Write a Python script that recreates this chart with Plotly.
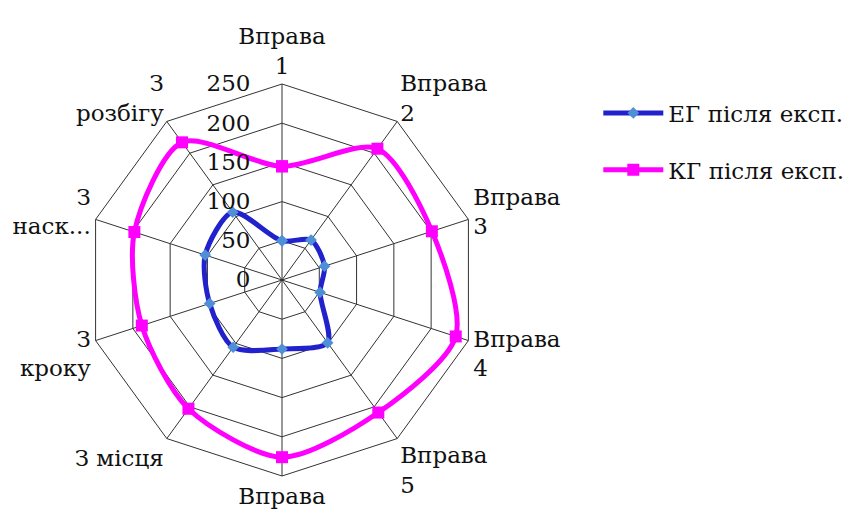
import plotly.graph_objects as go

categories = ["Вправа<br>1", "Вправа<br>2", "Вправа<br>3", "Вправа<br>4", "Вправа<br>5",
              "Вправа", "З місця", "З<br>кроку", "З<br>наск...", "З<br>розбігу"]
eg_values = [50, 63, 57, 51, 99, 88, 106, 97, 103, 107]
kg_values = [145, 207, 201, 233, 209, 226, 203, 188, 198, 217]
series_names = ["ЕГ після експ.", "КГ після експ."]
radial_ticks = [0, 50, 100, 150, 200, 250]

FONT = "DejaVu Serif"
FS = 23

def closed(v):
    return list(v) + [v[0]]

fig = go.Figure()
fig.add_trace(go.Scatterpolar(
    r=closed(eg_values), theta=closed(categories), name=series_names[0],
    mode="lines+markers", line=dict(color="#2222CC", width=5, shape="spline", smoothing=0.8),
    marker=dict(symbol="diamond", size=9, color="#4F8FD8"), legendgroup="a"))
fig.add_trace(go.Scatterpolar(
    r=closed(kg_values), theta=closed(categories), name=series_names[1],
    mode="lines+markers", line=dict(color="#FF00FF", width=5, shape="spline", smoothing=0.8),
    marker=dict(symbol="square", size=12, color="#FF00FF"), legendgroup="b"))

fig.update_layout(
    width=858, height=522,
    margin=dict(l=0, r=0, t=0, b=0),
    paper_bgcolor="white",
    font=dict(family=FONT, size=FS, color="#111111"),
    polar=dict(
        domain=dict(x=[78/858, 470/858], y=[54/522, 446/522]),
        bgcolor="white",
        gridshape="linear",
        radialaxis=dict(range=[0, 250], tickvals=radial_ticks, angle=90, side="counterclockwise",
                        tickangle=90, showline=False, ticks="outside", ticklen=23,
                        tickcolor="rgba(0,0,0,0)", gridcolor="#333333", gridwidth=1,
                        tickfont=dict(family=FONT, size=FS, color="#111111")),
        angularaxis=dict(rotation=90, direction="clockwise", showline=True, linecolor="#333333",
                         linewidth=1, gridcolor="#333333", gridwidth=1, ticks="",
                         tickfont=dict(family=FONT, size=FS, color="#111111")),
    ),
    legend=dict(x=0.688, y=0.84, xanchor="left", yanchor="top", tracegroupgap=24,
                itemwidth=60, font=dict(family=FONT, size=FS, color="#111111"),
                bgcolor="rgba(0,0,0,0)"),
    showlegend=True,
)

fig.write_html("out.html")
